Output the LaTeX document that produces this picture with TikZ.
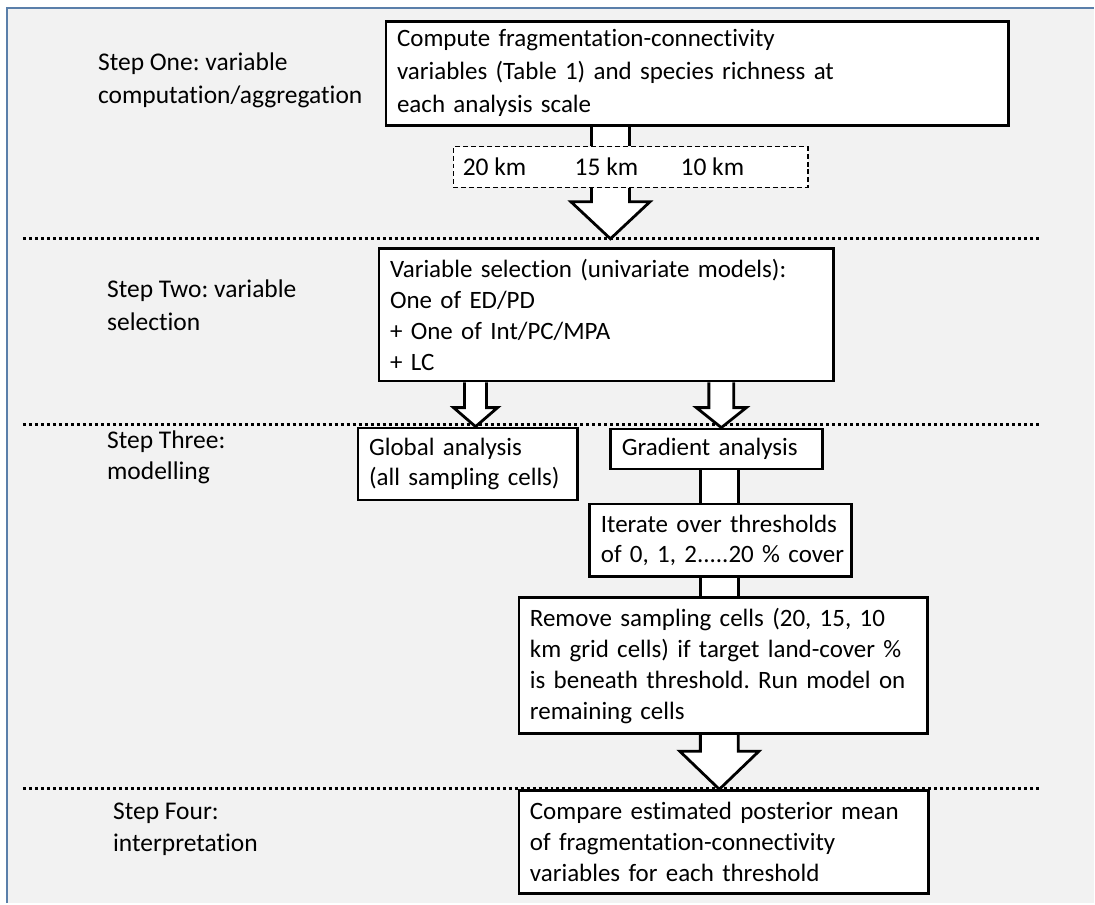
\documentclass[tikz,border=0pt]{standalone}
\usepackage{fontspec}
\setmainfont{Carlito}[Ligatures=NoCommon]
\usetikzlibrary{calc}
\definecolor{bg}{HTML}{F2F2F2}
\definecolor{frameblue}{HTML}{5A7FAA}
\pgfdeclarelayer{bottom}
\pgfdeclarelayer{background}
\pgfsetlayers{bottom,background,main}
\newcommand\blockarr[5]{%
  \path[barrow] ($(#1)+(-#3,0)$) -- ($(#2)+(-#3,-#5)$) -- ($(#2)+(-#4,-#5)$) -- (#2)
    -- ($(#2)+(#4,-#5)$) -- ($(#2)+(#3,-#5)$) -- ($(#1)+(#3,0)$);}
\newcommand\shaftarr[3]{%
  \fill[white] ($(#1)+(-#3,0)$) rectangle ($(#2)+(#3,0)$);
  \draw[barrowline] ($(#1)+(-#3,0)$) -- ($(#2)+(-#3,0)$);
  \draw[barrowline] ($(#1)+(#3,0)$) -- ($(#2)+(#3,0)$);}
\frenchspacing
\begin{document}
\frenchspacing
\begin{tikzpicture}[x=1pt,y=-1pt,
  box/.style={draw, line width=2.8pt, fill=white, anchor=north west, align=left,
    inner xsep=11pt, inner ysep=0pt, font=\fontsize{25}{31}\selectfont},
  lbl/.style={anchor=base west, inner sep=0pt, font=\fontsize{25.5}{31}\selectfont},
  barrow/.style={draw, line width=2.8pt, fill=white, line join=miter},
  barrowline/.style={draw, line width=2.8pt},
  divider/.style={line width=3pt, dash pattern=on 3pt off 3pt},
  dashbox/.style={draw, line width=1.3pt, dash pattern=on 5pt off 3pt, fill=white,
    anchor=north west, inner sep=0pt}]
% canvas
\begin{pgfonlayer}{bottom}
\fill[white] (0,0) rectangle (1095,904);
\fill[bg] (7,8) rectangle (1095,904);
\draw[frameblue, line width=2pt] (7,904) -- (7,8) -- (1095,8);
\end{pgfonlayer}
% step labels
\node[lbl] (s1a) at (98,71) {Step One: variable};
\node[lbl] (s1b) at (98,104) {computation/aggregation};
\node[lbl] (s2a) at (107,298) {Step Two: variable};
\node[lbl] (s2b) at (107,331) {selection};
\node[lbl] (s3a) at (107,449) {Step Three:};
\node[lbl] (s3b) at (107,480) {modelling};
\node[lbl] (s4a) at (113,820) {Step Four:};
\node[lbl] (s4b) at (113,852) {interpretation};
% boxes
\node[box, text width=601pt, minimum height=104pt, font=\fontsize{25}{33}\selectfont] (b1) at (385,20)
  {Compute fragmentation-connectivity\\variables (Table 1) and species richness at\\each analysis scale};
\node[dashbox, minimum width=355pt, minimum height=41pt] (scales) at (453,146) {};
\node[lbl] (k20) at (463,176) {20 km};
\node[lbl] (k15) at (575,176) {15 km};
\node[lbl] (k10) at (681,176) {10 km};
\node[box, text width=433pt, minimum height=133pt] (b2) at (378,247)
  {Variable selection (univariate models):\\One of ED/PD\\+ One of Int/PC/MPA\\+ LC};
\node[box, text width=198pt, minimum height=72pt] (glob) at (357,427)
  {Global analysis\\(all sampling cells)};
\node[box, text width=190pt, minimum height=40pt] (grad) at (610,428)
  {Gradient analysis};
\node[box, text width=240pt, minimum height=73pt] (iter) at (589,503)
  {Iterate over thresholds\\\mbox{of 0, 1, 2.....20 \% cover}};
\node[box, text width=387pt, minimum height=136pt] (rem) at (518,597)
  {Remove sampling cells (20, 15, 10\\km grid cells) if target land-cover \%\\is beneath threshold. Run model on\\remaining cells};
\node[box, text width=388pt, minimum height=103pt] (cmp) at (518,790)
  {Compare estimated posterior mean\\of fragmentation-connectivity\\variables for each threshold};
% guide coordinates
\coordinate (ax1) at (611,0);
\coordinate (ax2) at (476,0);
\coordinate (ax3) at (722,0);
\coordinate (ax4) at (720,0);
\coordinate (d1l) at (23,239);  \coordinate (d1r) at (1040,239);
\coordinate (d2l) at (23,425);  \coordinate (d2r) at (1040,425);
\coordinate (d3l) at (23,789);  \coordinate (d3r) at (1040,789);
\begin{pgfonlayer}{background}
\draw[divider] (d1l) -- (d1r);
\draw[divider] (d2l) -- (d2r);
\draw[divider] (d3l) -- (d3r);
\shaftarr{ax1 |- b1.south}{ax1 |- scales.north}{19}
\blockarr{ax1 |- scales.south}{ax1 |- d1l}{19}{39.5}{37}
\blockarr{ax2 |- b2.south}{ax2 |- glob.north}{11}{22}{19}
\blockarr{ax3 |- b2.south}{ax3 |- grad.north}{12.5}{25}{20}
\shaftarr{ax4 |- grad.south}{ax4 |- iter.north}{19}
\shaftarr{ax4 |- iter.south}{ax4 |- rem.north}{19}
\blockarr{ax4 |- rem.south}{ax4 |- cmp.north}{19}{39.5}{38}
\end{pgfonlayer}
\end{tikzpicture}
\end{document}
